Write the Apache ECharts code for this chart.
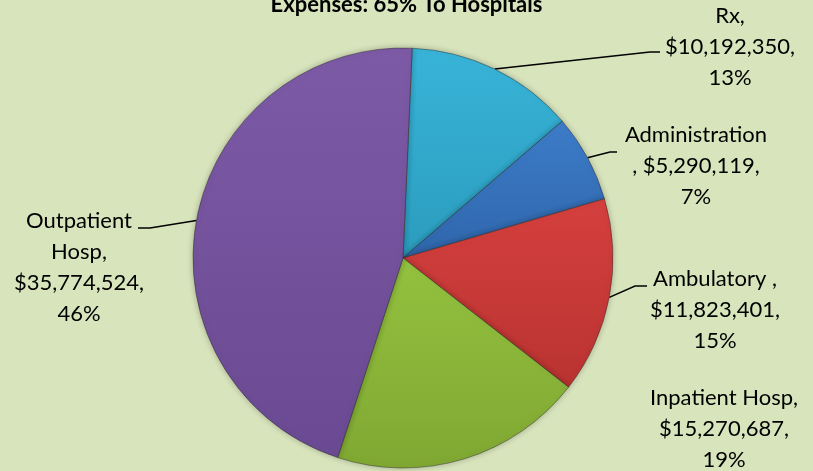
<!DOCTYPE html>
<html>
<head>
<meta charset="utf-8">
<script src="https://cdn.jsdelivr.net/npm/echarts@6/dist/echarts.min.js"></script>
<style>
  html, body { margin: 0; padding: 0; background: #d8e4bc; }
  #chart { width: 813px; height: 471px; }
</style>
</head>
<body>
<div id="chart"></div>
<script>
  // slices, clockwise from the top
  var categories = ['Rx', 'Administration\n', 'Ambulatory ', 'Inpatient Hosp', 'Outpatient\nHosp'];
  var amounts = [10192350, 5290119, 11823401, 15270687, 35774524];
  var colors = ['#38b4d8', '#3d7cc9', '#d5403e', '#94c13f', '#7d5aa6'];
  var darker = ['#2b9cbd', '#2f66ab', '#b93331', '#7fa832', '#6a4a92'];
  var showLine = [true, true, true, false, true];

  // where each label sits (centre of text block), and the bend/end of its leader
  var labelSpots = [[730, 47], [696, 166], [715, 310], [724, 429], [79, 267]];
  var leaderBends = [[650, 52], [610, 152], [635, 286], null, [150, 228]];
  var leaderEnds = [[660, 52], [617, 152], [647, 286], null, [138, 228]];

  function money(v) {
    return '$' + String(v).replace(/\B(?=(\d{3})+(?!\d))/g, ',');
  }

  var chart = echarts.init(document.getElementById('chart'));

  var data = amounts.map(function (v, i) {
    return {
      value: v,
      name: categories[i],
      itemStyle: {
        color: new echarts.graphic.LinearGradient(0, 0, 0, 1, [
          { offset: 0, color: colors[i] },
          { offset: 1, color: darker[i] }
        ])
      },
      labelLine: { show: showLine[i] }
    };
  });

  chart.setOption({
    backgroundColor: '#d8e4bc',
    title: {
      text: 'Expenses: 65% To Hospitals',
      left: 'center',
      top: -11,
      textStyle: { fontFamily: 'Lato', fontWeight: 'bold', fontSize: 22, color: '#000' }
    },
    series: [{
      type: 'pie',
      center: [403, 258],
      radius: 210,
      startAngle: 87.5,
      clockwise: true,
      percentPrecision: 0,
      animation: false,
      data: data,
      itemStyle: {
        borderColor: 'rgba(40,40,40,0.45)',
        borderWidth: 1,
        shadowBlur: 6,
        shadowColor: 'rgba(0,0,0,0.25)'
      },
      label: {
        show: true,
        position: 'outside',
        fontFamily: 'Lato',
        fontSize: 22,
        lineHeight: 31,
        color: '#000',
        align: 'center',
        formatter: function (p) {
          var sep = /\n$/.test(p.name) ? ' ' : '\n';
          return p.name + ',' + sep + money(p.value) + ',\n' + p.percent + '%';
        }
      },
      labelLine: {
        lineStyle: { color: '#000', width: 1.5 }
      },
      labelLayout: function (p) {
        var i = p.dataIndex;
        var s = labelSpots[i];
        var out = { x: s[0], y: s[1], align: 'center', verticalAlign: 'middle' };
        if (leaderEnds[i] && p.labelLinePoints) {
          out.labelLinePoints = [p.labelLinePoints[0], leaderBends[i], leaderEnds[i]];
        }
        return out;
      }
    }]
  });
</script>
</body>
</html>
